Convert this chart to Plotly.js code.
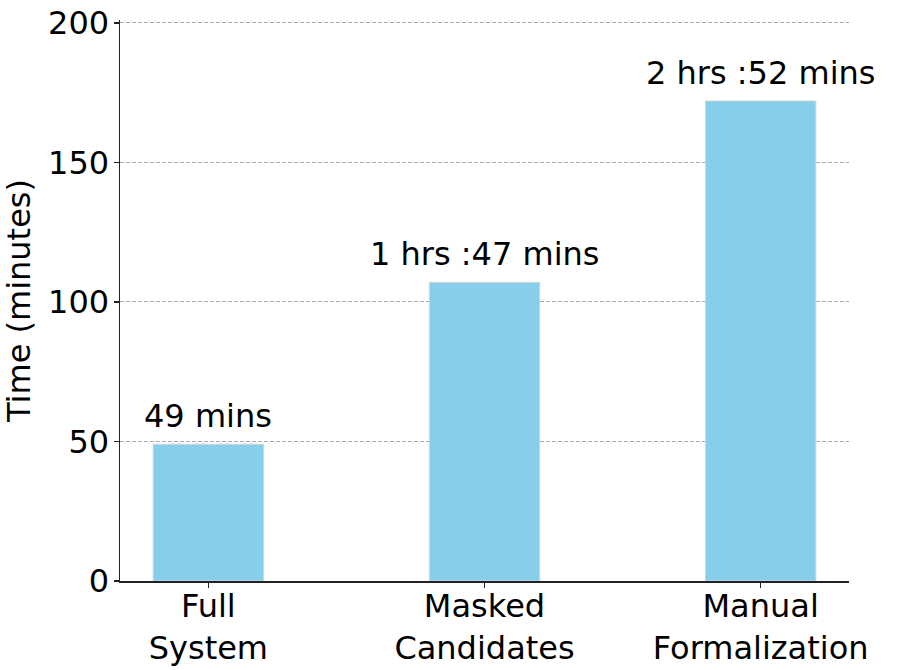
<!DOCTYPE html>
<html>
<head>
<meta charset="utf-8">
<script src="https://cdn.plot.ly/plotly-3.0.1.min.js"></script>
<style>
  body { margin: 0; background: #fff; }
  #chart { width: 897px; height: 670px; }
</style>
</head>
<body>
<div id="chart"></div>
<script>
// categories and times (minutes)
const methods = ['Full<br>System', 'Masked<br>Candidates', 'Manual<br>Formalization'];
const minutes = [49, 107, 172];
const yTicks = [0, 50, 100, 150, 200];

function fmtTime(m) {
    let h = Math.floor(m / 60);
    let r = m % 60;
    if (h == 0) return r + ' mins';
    return h + ' hrs :' + r + ' mins';
}

const font = 'DejaVu Sans, sans-serif';

let labels = [];
for (let i = 0; i < methods.length; i++) {
    labels.push({
        x: i, y: minutes[i], xref: 'x', yref: 'y',
        text: fmtTime(minutes[i]),
        showarrow: false, yanchor: 'bottom', yshift: 7,
        font: { family: font, size: 32, color: '#000' }
    });
}

var data = [{
    type: 'bar',
    x: [0, 1, 2],
    y: minutes,
    width: 0.4,
    marker: { color: '#87CEEB', line: { color: '#d6d6d6', width: 1 } },
    hoverinfo: 'none'
}];

var layout = {
    width: 897, height: 670,
    margin: { l: 120, r: 48, t: 20, b: 89 },
    paper_bgcolor: '#fff', plot_bgcolor: '#fff',
    showlegend: false,
    font: { family: font, size: 32, color: '#000' },
    xaxis: {
        range: [-0.32, 2.32],
        tickvals: [0, 1, 2],
        ticktext: methods,
        showgrid: false, zeroline: false,
        showline: true, linecolor: '#222', linewidth: 1.5,
        ticks: 'outside', ticklen: 5, tickcolor: '#222', tickwidth: 1.5,
        ticklabelstandoff: -9,
        tickfont: { family: font, size: 32 }
    },
    yaxis: {
        range: [0, 201],
        tickvals: yTicks,
        showgrid: true, gridcolor: '#aaaaaa', griddash: '4px,2px', gridwidth: 1,
        zeroline: false,
        showline: true, linecolor: '#222', linewidth: 1.5,
        ticks: 'outside', ticklen: 5, tickcolor: '#222', tickwidth: 1.5,
        ticklabelstandoff: -2,
        tickfont: { family: font, size: 32 },
        title: { text: 'Time (minutes)', font: { family: font, size: 32 }, standoff: 9 }
    },
    annotations: labels
};

Plotly.newPlot('chart', data, layout, { displayModeBar: false, staticPlot: true });
</script>
</body>
</html>
